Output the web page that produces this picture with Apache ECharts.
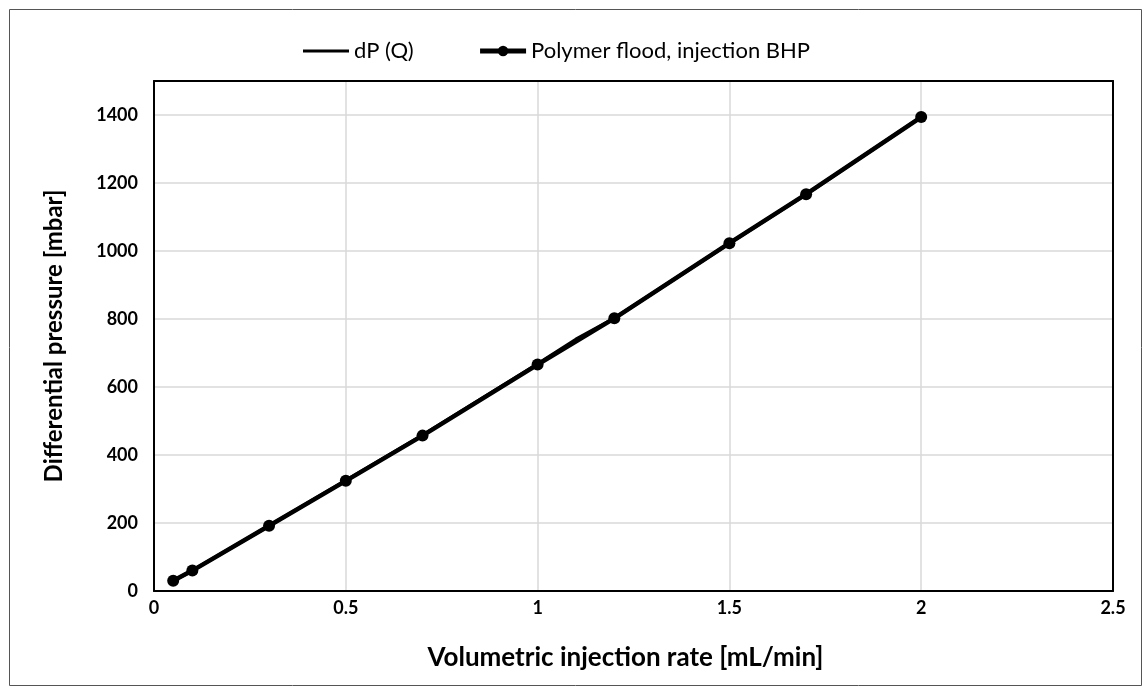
<!DOCTYPE html>
<html>
<head>
<meta charset="utf-8">
<script src="https://cdn.jsdelivr.net/npm/echarts@6/dist/echarts.min.js"></script>
<style>html,body{margin:0;padding:0;background:#fff;}#c{width:1145px;height:688px;}</style>
</head>
<body>
<div id="c"></div>
<script>
var seriesNames = ['dP (Q)', 'Polymer flood, injection BHP'];
var modelRate = [0.05, 0.1, 0.3, 0.5, 0.7, 1.0, 1.1, 1.2, 1.5, 1.7, 2.0];
var modelDP   = [30, 60, 192, 325, 458, 668, 740, 802, 1023, 1167, 1394];
var floodRate = [0.05, 0.1, 0.3, 0.5, 0.7, 1.0, 1.2, 1.5, 1.7, 2.0];
var floodDP   = [30, 60, 192, 324, 457, 666, 802, 1023, 1167, 1394];
var xTitle = 'Volumetric injection rate [mL/min]';
var yTitle = 'Differential pressure [mbar]';

function pairs(xs, ys) { return xs.map(function (x, i) { return [x, ys[i]]; }); }

var FONT = 'Lato, "Open Sans", sans-serif';
var frameAxis = {
  show: true,
  axisLine: { show: true, onZero: false, lineStyle: { color: '#000', width: 2 } },
  axisTick: { show: false }, axisLabel: { show: false }, splitLine: { show: false }
};
var chart = echarts.init(document.getElementById('c'), null, { renderer: 'canvas' });
chart.setOption({
  animation: false,
  backgroundColor: '#fff',
  graphic: [{
    type: 'rect', left: 7, top: 7, z: -1,
    shape: { width: 1132, height: 676 },
    style: { fill: 'none', stroke: '#555', lineWidth: 1 }
  }],
  legend: {
    top: 35, left: 298, itemWidth: 46, itemHeight: 13, itemGap: 64,
    textStyle: { fontFamily: FONT, fontSize: 22, color: '#000' },
    data: [
      { name: seriesNames[0], icon: 'path://M0,5 L46,5 L46,8 L0,8 Z' },
      { name: seriesNames[1], lineStyle: { width: 5, color: '#000' }, itemStyle: { color: '#000' } }
    ]
  },
  grid: { left: 154, right: 32, top: 81, bottom: 97 },
  xAxis: [{
    type: 'value', min: 0, max: 2.5, interval: 0.5,
    name: xTitle, nameLocation: 'middle', nameGap: 54,
    nameTextStyle: { fontFamily: FONT, fontSize: 26, fontWeight: 'bold', color: '#000', padding: [0, 16, 0, 0] },
    axisLine: { show: true, onZero: false, lineStyle: { color: '#000', width: 2 } },
    axisTick: { show: false },
    axisLabel: { fontFamily: FONT, fontSize: 18, fontWeight: 'bold', color: '#000', margin: 8 },
    splitLine: { show: true, lineStyle: { color: '#d9d9d9', width: 1.5 } }
  }, Object.assign({ type: 'value', position: 'top', min: 0, max: 2.5, interval: 0.5 }, frameAxis)],
  yAxis: [{
    type: 'value', min: 0, max: 1500, interval: 200,
    name: yTitle, nameLocation: 'middle', nameGap: 88,
    nameTextStyle: { fontFamily: FONT, fontSize: 24, fontWeight: 'bold', color: '#000' },
    axisLine: { show: true, onZero: false, lineStyle: { color: '#000', width: 2 } },
    axisTick: { show: false },
    axisLabel: {
      fontFamily: FONT, fontSize: 18, fontWeight: 'bold', color: '#000', margin: 16,
      formatter: function (v) { return v % 200 === 0 ? String(v) : ''; }
    },
    splitLine: { show: true, lineStyle: { color: '#d9d9d9', width: 1.5 } }
  }, Object.assign({ type: 'value', position: 'right', min: 0, max: 1500, interval: 200 }, frameAxis)],
  series: [
    {
      name: seriesNames[0], type: 'line', data: pairs(modelRate, modelDP),
      showSymbol: false, symbol: 'none',
      lineStyle: { color: '#000', width: 3.5 }, itemStyle: { color: '#000' }, z: 2
    },
    {
      name: seriesNames[1], type: 'line', data: pairs(floodRate, floodDP),
      symbol: 'circle', symbolSize: 12,
      lineStyle: { color: '#000', width: 4.5 }, itemStyle: { color: '#000' }, z: 3
    }
  ]
});
</script>
</body>
</html>
